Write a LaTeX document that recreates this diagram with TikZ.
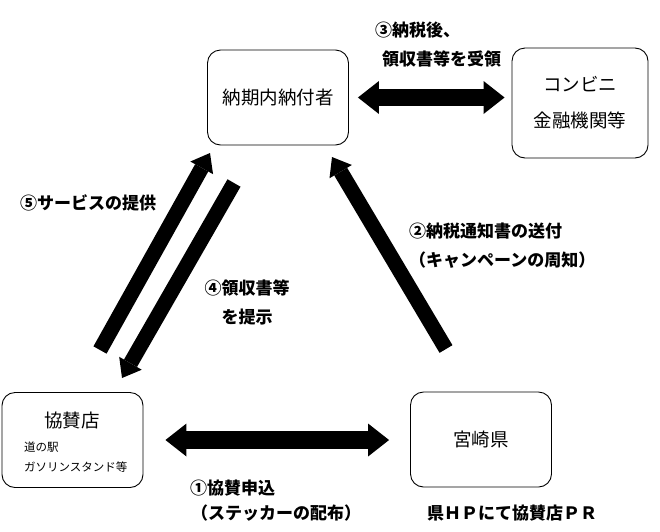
\documentclass[tikz,border=0pt]{standalone}
\usepackage{fontspec}
\setmainfont{Noto Sans CJK JP}
\usetikzlibrary{arrows.meta}

\begin{document}
\begin{tikzpicture}[
        x=1pt, y=-1pt,
        box/.style={
            rectangle, rounded corners=13pt,
            minimum width=141pt,
            minimum height=95pt,
            draw=black, line width=0.9pt,
            align=center,
            font=\fontsize{18.5}{36}\selectfont
        },
        note/.style={
            inner sep=0pt, align=left,
            font=\fontsize{17}{29}\selectfont\bfseries
        },
        bigarrow/.style={line width=17pt, <->,
            >={Triangle[width=33pt,length=21pt,line width=0pt]}},
        slimarrow/.style={line width=15pt, ->,
            >={Triangle[width=26pt,length=17pt,line width=0pt]}}
    ]

    \useasboundingbox (0,0) rectangle (660,531);

    \node[box] (payer) at (278,97.5) {納期内納付者};
    \node[box, minimum width=136pt, minimum height=110pt] (conbini) at (580,103)
        {コンビニ\\金融機関等};
    \node[box] (kyosan) at (72.5,440) {};
    \node[box] (miyazaki) at (481,439.5) {宮崎県};

    \node[font=\fontsize{18.5}{20}\selectfont] (kyosantitle) at (72,420) {協賛店};
    \node[inner sep=0pt, anchor=west, align=left,
          font=\fontsize{11.5}{20}\selectfont] (kyosansub) at (24,457)
        {道の駅\\ガソリンスタンド等};

    \coordinate (servtail) at (100,350);
    \coordinate (servtip) at (210,153);
    \coordinate (rcpttail) at (234,183);
    \coordinate (rcpttip) at (122,378);
    \coordinate (noticetail) at (446,349);
    \coordinate (noticetip) at (332,157);

    \draw[bigarrow, shorten <=9pt, shorten >=7pt] (payer.east) -- (payer.east -| conbini.west);
    \draw[bigarrow, line width=18pt, shorten <=22pt, shorten >=21pt]
        (kyosan.east) -- (kyosan.east -| miyazaki.west);
    \draw[slimarrow] (servtail) -- (servtip);
    \draw[slimarrow] (rcpttail) -- (rcpttip);
    \draw[slimarrow] (noticetail) -- (noticetip);

    \node[note, anchor=west] (step3) at (375,44.5) {③納税後、\\\hspace{7pt}領収書等を受領};
    \node[note, anchor=west] (step5) at (20,203) {⑤サービスの提供};
    \node[note, align=center] (step4) at (247,302.5) {④領収書等\\を提示};
    \node[note, anchor=west] (step2) at (409,246) {②納税通知書の送付\\（キャンペーンの周知）};
    \node[note, anchor=west, font=\fontsize{17}{25}\selectfont\bfseries] (step1) at (190,500.5)
        {①協賛申込\\\hspace{1pt}（ステッカーの配布）};
    \node[note] (pr) at (512,513) {県ＨＰにて協賛店ＰＲ};

\end{tikzpicture}
\end{document}
